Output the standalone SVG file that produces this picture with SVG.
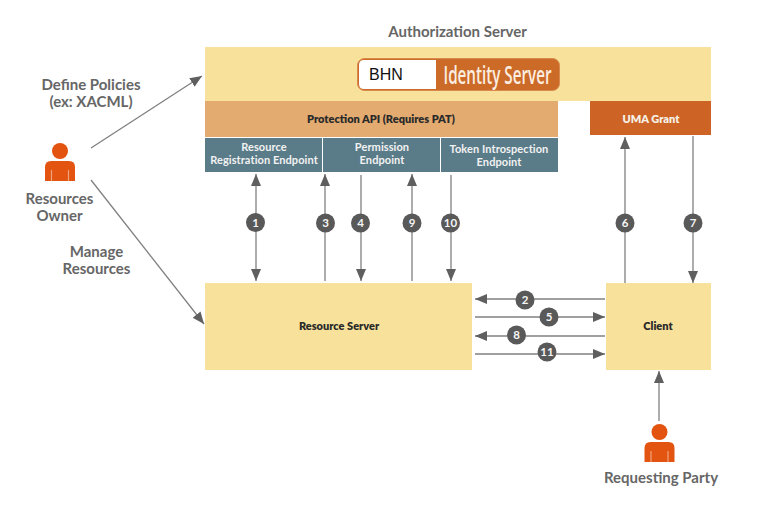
<svg xmlns="http://www.w3.org/2000/svg" width="770" height="506" viewBox="0 0 770 506">
<style>
text{font-family:"Lato","Noto Sans",sans-serif;text-anchor:middle}
.lbl{font-size:15px;font-weight:700;fill:#666}
.in{font-size:11px;font-weight:800;fill:#2a2a2a}
.ep{font-size:11px;font-weight:700;fill:#f2f2f2;letter-spacing:.08px}
.num{font-size:11.500px;font-weight:700;fill:#f5f5f5}
.y{fill:#f8e29b}
.ep-box{fill:#5a7b88}
.c{stroke:#808080;stroke-width:1.300;fill:none}
.badge{fill:#595959}
.p{fill:#e2540f}
.seam{stroke:#f0a27c;stroke-width:1.200}
</style>
<defs>
<marker id="a" markerUnits="userSpaceOnUse" markerWidth="12" markerHeight="12" refX="12" refY="6" orient="auto-start-reverse"><path d="M0 1L12 6L0 11Z" fill="#5f5f5f"/></marker>
<g id="person"><circle cx="0" cy="-14" r="8" class="p"/><path class="p" d="M-15 16V2Q-15 -4 -9 -4H9Q15 -4 15 2V16Z"/><path class="seam" d="M-8.500 5V16M8.500 5V16"/></g>
</defs>
<text x="457.500" y="37" class="lbl">Authorization Server</text>
<g id="auth-server"><rect x="205" y="47" width="506" height="54" class="y"/></g>
<g id="logo"><rect x="357.500" y="58.500" width="202" height="32" rx="7" fill="#cc6a28" stroke="#d98a4e"/><path d="M436 60H364Q359 60 359 65V84Q359 89 364 89H436Z" fill="#fff"/>
<text x="386" y="80" font-size="16" style="font-family:'Liberation Sans',sans-serif;fill:#111">BHN</text>
<text x="497.500" y="84" font-size="25" font-weight="600" fill="#fbeee0" textLength="108" lengthAdjust="spacingAndGlyphs" style="font-family:'Open Sans',sans-serif">Identity Server</text></g>
<g id="protection-api"><rect x="205" y="101" width="353" height="36" fill="#e3ab70"/><text x="381" y="123" class="in">Protection API (Requires PAT)</text></g>
<g id="uma-grant"><rect x="590" y="101" width="121" height="34" fill="#cd6425"/><text x="651" y="123" class="in" style="fill:#f6f0e6">UMA Grant</text></g>
<g id="ep-registration"><rect x="205" y="138" width="117" height="34" class="ep-box"/><text x="264" y="151" class="ep">Resource</text><text x="264" y="164" class="ep">Registration Endpoint</text></g>
<g id="ep-permission"><rect x="323" y="138" width="117" height="34" class="ep-box"/><text x="382" y="151" class="ep">Permission</text><text x="382" y="164" class="ep">Endpoint</text></g>
<g id="ep-token"><rect x="441" y="138" width="117" height="34" class="ep-box"/><text x="499" y="153" class="ep">Token Introspection</text><text x="499" y="166" class="ep">Endpoint</text></g>
<g id="resource-server"><rect x="205" y="283" width="267" height="87" class="y"/><text x="339" y="330" class="in">Resource Server</text></g>
<g id="client"><rect x="606" y="283" width="105" height="87" class="y"/><text x="658" y="330" class="in">Client</text></g>
<g id="resources-owner"><use href="#person" x="60" y="165"/><text x="59.500" y="204" class="lbl">Resources</text><text x="59.500" y="221" class="lbl">Owner</text></g>
<g id="requesting-party"><use href="#person" x="659.500" y="446"/><text x="661" y="483" class="lbl">Requesting Party</text></g>
<text x="91" y="90" class="lbl">Define Policies</text><text x="91" y="107" class="lbl">(ex: XACML)</text>
<text x="96.500" y="257" class="lbl">Manage</text><text x="96.500" y="274" class="lbl">Resources</text>
<g id="connectors">
<path class="c" marker-end="url(#a)" d="M91 148L202 76"/>
<path class="c" marker-end="url(#a)" d="M91 180L204 324"/>
<path class="c" marker-start="url(#a)" marker-end="url(#a)" d="M256 174V281"/>
<path class="c" marker-end="url(#a)" d="M325 281V174"/>
<path class="c" marker-end="url(#a)" d="M361 175V281"/>
<path class="c" marker-end="url(#a)" d="M412 281V174"/>
<path class="c" marker-end="url(#a)" d="M451 175V281"/>
<path class="c" marker-end="url(#a)" d="M625 283V137"/>
<path class="c" marker-end="url(#a)" d="M693 136V283"/>
<path class="c" marker-end="url(#a)" d="M605 299H475"/>
<path class="c" marker-end="url(#a)" d="M475 317H605"/>
<path class="c" marker-end="url(#a)" d="M605 336H475"/>
<path class="c" marker-end="url(#a)" d="M475 354H605"/>
<path class="c" marker-end="url(#a)" d="M659 421V371"/>
</g>
<g id="badges">
<circle cx="255.500" cy="222.500" r="9.500" class="badge"/><text x="255.500" y="226.500" class="num">1</text>
<circle cx="325.500" cy="223" r="9.500" class="badge"/><text x="325.500" y="227" class="num">3</text>
<circle cx="360.500" cy="223" r="9.500" class="badge"/><text x="360.500" y="227" class="num">4</text>
<circle cx="412" cy="223" r="9.500" class="badge"/><text x="412" y="227" class="num">9</text>
<circle cx="450.500" cy="223" r="9.500" class="badge"/><text x="450.500" y="227" class="num">10</text>
<circle cx="625" cy="223" r="9.500" class="badge"/><text x="625" y="227" class="num">6</text>
<circle cx="693" cy="223" r="9.500" class="badge"/><text x="693" y="227" class="num">7</text>
<circle cx="525" cy="300" r="9.500" class="badge"/><text x="525" y="304" class="num">2</text>
<circle cx="549" cy="317" r="9.500" class="badge"/><text x="549" y="321" class="num">5</text>
<circle cx="516.500" cy="335" r="9.500" class="badge"/><text x="516.500" y="339" class="num">8</text>
<circle cx="547" cy="352" r="9.500" class="badge"/><text x="547" y="356" class="num">11</text>
</g>
</svg>
